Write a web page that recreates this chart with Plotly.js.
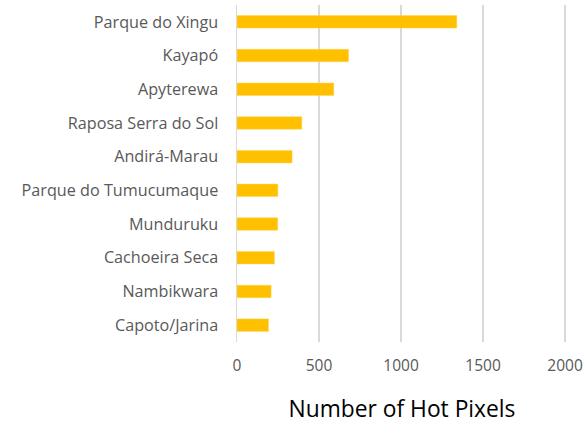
<!DOCTYPE html>
<html>
<head>
<meta charset="utf-8">
<script src="https://cdn.plot.ly/plotly-3.0.1.min.js"></script>
<style>html,body{margin:0;padding:0;background:#fff;}#chart{width:587px;height:424px;}</style>
</head>
<body>
<div id="chart"></div>
<script>
const categories = ["Parque do Xingu","Kayapó","Apyterewa","Raposa Serra do Sol","Andirá-Marau","Parque do Tumucumaque","Munduruku","Cachoeira Seca","Nambikwara","Capoto/Jarina"];
const hotPixels = [1340, 680, 590, 395, 336, 249, 248, 228, 208, 192];
const xTicks = [0, 500, 1000, 1500, 2000];

const trace = {
  type: 'bar',
  orientation: 'h',
  y: categories,
  x: hotPixels,
  width: 0.37,
  marker: {color: '#FFC000', line: {color: '#FFD54F', width: 0.5}},
  hoverinfo: 'skip'
};

const layout = {
  width: 587, height: 424,
  margin: {l: 237, r: 20, t: 5, b: 82},
  paper_bgcolor: '#fff', plot_bgcolor: '#fff',
  showlegend: false,
  font: {family: '"Open Sans", sans-serif', size: 16, color: '#595959'},
  xaxis: {
    range: [0, 2012],
    tickvals: xTicks,
    ticktext: xTicks.map(String),
    showgrid: true, gridcolor: '#d9d9d9', gridwidth: 1.5,
    zeroline: false, showline: false, ticks: '',
    ticklabelstandoff: 12,
    tickfont: {size: 15.5, color: '#595959'},
    title: {text: 'Number of Hot Pixels', font: {family: '"Open Sans", sans-serif', size: 22.8, color: '#000'}, standoff: 27},
    fixedrange: true
  },
  yaxis: {
    autorange: 'reversed',
    showgrid: false, zeroline: false,
    showline: true, linecolor: '#d9d9d9', linewidth: 1.5,
    ticks: '', ticklabelstandoff: 14,
    tickfont: {size: 16.2, color: '#595959'},
    fixedrange: true
  }
};

Plotly.newPlot('chart', [trace], layout, {displayModeBar: false, staticPlot: true});
</script>
</body>
</html>
